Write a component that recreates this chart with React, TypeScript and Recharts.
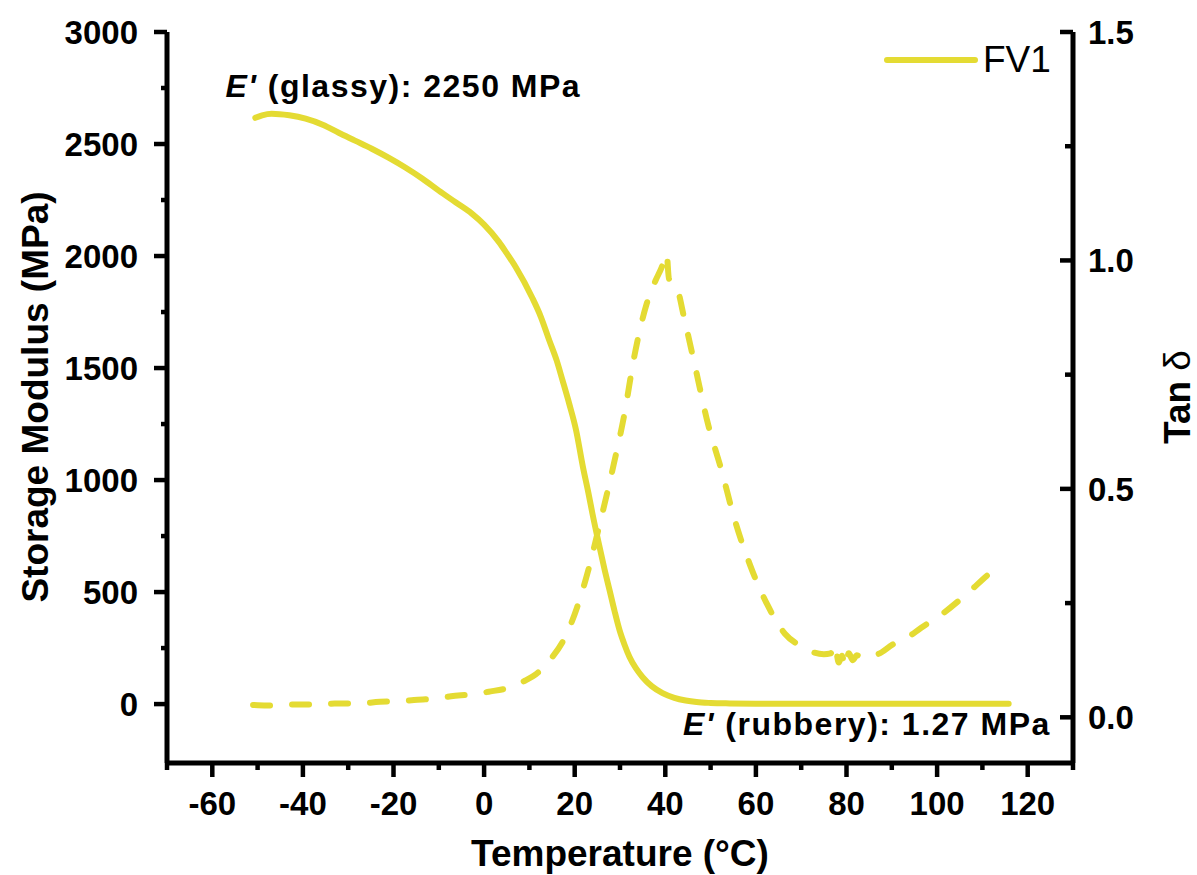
import { Legend, Line, LineChart, ReferenceDot, XAxis, YAxis } from 'recharts'

const YELLOW = '#e4db33'
const FONT = '"Liberation Sans", Arial, sans-serif'

// storage modulus E' (MPa) vs temperature (°C)
const TEMP_E = [
  -50.5, -49, -46.9, -43, -39.4, -35.5, -32.1, -28.5, -24.8, -21, -17.3, -13.6, -10, -6.3, -2.7, 0, 3.3, 4.9, 7,
  10.6, 12.5, 14.4, 16, 17.3, 18.8, 20.3, 21.8, 23, 23.9, 25.5, 26.6, 27.7, 28.8, 29.9, 31, 32.1, 33.5, 35, 37, 39.4,
  42, 44.5, 46.9, 50, 54.2, 60, 70, 80, 90, 100, 110, 115.8,
]
const MODULUS = [
  2617, 2628, 2635, 2628, 2613, 2585, 2550, 2515, 2479, 2438, 2394, 2345, 2292, 2240, 2189, 2140, 2062, 2015, 1950,
  1815, 1730, 1623, 1535, 1446, 1340, 1223, 1060, 945, 852, 700, 600, 508, 415, 330, 265, 210, 160, 120, 80, 49,
  28, 16, 9, 5, 3, 2, 1.6, 1.4, 1.3, 1.3, 1.27, 1.27,
]

// tan delta vs temperature (°C)
const TEMP_TAN = [
  -51, -48, -43, -38, -33, -28, -23, -19, -15.5, -10.6, -7.3, -3, 1, 5.5, 9, 11.4, 14.5, 18.2, 20.5, 22.5, 25.5,
  28.6, 31, 33, 35.8, 37.8, 39.2, 40.3, 40.8, 41.7, 42.6, 44.1, 46.6, 49.4, 52.4, 55.3, 58.8, 62.5, 66.4, 69.5,
  72.7, 75, 76.5, 77.4, 78.3, 79, 79.7, 80.5, 81.4, 82.3, 83.4, 85, 87.1, 90.3, 93, 96.5, 101.5, 106.4, 111.6, 113.3,
]
const TAN_DELTA = [
  0.027, 0.026, 0.028, 0.028, 0.03, 0.03, 0.034, 0.035, 0.038, 0.041, 0.046, 0.05, 0.056, 0.065, 0.08, 0.094, 0.125,
  0.182, 0.24, 0.304, 0.422, 0.553, 0.665, 0.782, 0.902, 0.955, 0.985, 1.015, 0.96, 0.953, 0.94, 0.877, 0.767, 0.643,
  0.541, 0.433, 0.331, 0.247, 0.183, 0.158, 0.142, 0.138, 0.14, 0.16, 0.12, 0.135, 0.11, 0.14, 0.125, 0.136, 0.13,
  0.134, 0.139, 0.16, 0.172, 0.196, 0.229, 0.269, 0.315, 0.329,
]

const X_TICKS = [-70, -60, -50, -40, -30, -20, -10, 0, 10, 20, 30, 40, 50, 60, 70, 80, 90, 100, 110, 120, 130]
const E_TICKS = [0, 250, 500, 750, 1000, 1250, 1500, 1750, 2000, 2250, 2500, 2750, 3000]
const TAN_TICKS = [0, 0.25, 0.5, 0.75, 1, 1.25, 1.5]

const eRows = TEMP_E.map((t, i) => ({ t, e: MODULUS[i] }))
const tanRows = TEMP_TAN.map((t, i) => ({ t, tan: TAN_DELTA[i] }))

type TickProps = { x?: number; y?: number; payload?: { value: number } }

function XTick({ x = 0, y = 0, payload }: TickProps) {
  if (!payload) return null
  const v = payload.value
  const major = v % 20 === 0
  return (
    <g>
      <line x1={x} x2={x} y1={y} y2={y + (major ? 14 : 7)} stroke="#000" strokeWidth={4.5} />
      {major && (
        <text x={x} y={y + 52} textAnchor="middle" fontSize={33} fontWeight={700} fontFamily={FONT} fill="#000">
          {v}
        </text>
      )}
    </g>
  )
}

function LeftTick({ x = 0, y = 0, payload }: TickProps) {
  if (!payload) return null
  const v = payload.value
  const major = v % 500 === 0
  return (
    <g>
      <line x1={x - (major ? 13 : 6)} x2={x} y1={y} y2={y} stroke="#000" strokeWidth={4.5} />
      {major && (
        <text x={x - 29} y={y + 12} textAnchor="end" fontSize={33} fontWeight={700} fontFamily={FONT} fill="#000">
          {v}
        </text>
      )}
    </g>
  )
}

function RightTick({ x = 0, y = 0, payload }: TickProps) {
  if (!payload) return null
  const v = payload.value
  const major = Math.abs((v * 2) % 1) < 1e-9
  return (
    <g>
      <line x1={x - (major ? 13 : 8)} x2={x} y1={y} y2={y} stroke="#000" strokeWidth={4.5} />
      {major && (
        <text x={x + 15} y={y + 12} textAnchor="start" fontSize={33} fontWeight={700} fontFamily={FONT} fill="#000">
          {v.toFixed(1)}
        </text>
      )}
    </g>
  )
}

type VB = { viewBox?: { x?: number; y?: number; width?: number; height?: number } }

// annotation text anchored at a data point
function annot(label: string, anchor: 'start' | 'end') {
  return (p: VB) => {
    const vb = p.viewBox ?? {}
    const x = (vb.x ?? 0) + (vb.width ?? 0) / 2
    const y = (vb.y ?? 0) + (vb.height ?? 0) / 2
    return (
      <text x={x} y={y} textAnchor={anchor} fontSize={32} fontWeight={700} fontFamily={FONT} letterSpacing={1.5} fill="#000">
        <tspan fontStyle="italic">E'</tspan> {label}
      </text>
    )
  }
}

function LegendBox() {
  return (
    <svg width={200} height={50}>
      <line x1={7} x2={95} y1={25} y2={25} stroke={YELLOW} strokeWidth={6} strokeLinecap="round" />
      <text x={103} y={37} fontSize={37} fontFamily={FONT} fill="#000">FV1</text>
    </svg>
  )
}

export default function App() {
  return (
    <div style={{ position: 'absolute', left: 0, top: 0, width: 1197, height: 875, background: '#fff' }}>
      <LineChart width={1197} height={875} margin={{ top: 32, right: 24, bottom: 32, left: 67 }}>
        <XAxis
          dataKey="t"
          type="number"
          domain={[-70, 130]}
          ticks={X_TICKS}
          interval={0}
          height={80}
          tickSize={0}
          tickMargin={0}
          tickLine={false}
          axisLine={{ stroke: '#000', strokeWidth: 5 }}
          tick={(p: TickProps) => <XTick {...p} />}
          label={{
            content: () => (
              <text x={620} y={866} textAnchor="middle" fontSize={37} fontWeight={700} fontFamily={FONT} fill="#000">
                Temperature (°C)
              </text>
            ),
          }}
        />
        <XAxis
          xAxisId="top"
          orientation="top"
          dataKey="t"
          type="number"
          domain={[-70, 130]}
          height={0}
          tick={false}
          tickLine={false}
          axisLine={{ stroke: '#000', strokeWidth: 5 }}
        />
        <YAxis
          yAxisId="left"
          type="number"
          domain={[-263, 3000]}
          ticks={E_TICKS}
          interval={0}
          width={100}
          tickSize={0}
          tickMargin={0}
          tickLine={false}
          axisLine={{ stroke: '#000', strokeWidth: 5 }}
          tick={(p: TickProps) => <LeftTick {...p} />}
          label={{
            content: () => (
              <text
                x={48}
                y={397}
                transform="rotate(-90 48 397)"
                textAnchor="middle"
                fontSize={37}
                fontWeight={700}
                fontFamily={FONT}
                fill="#000"
              >
                Storage Modulus (MPa)
              </text>
            ),
          }}
        />
        <YAxis
          yAxisId="right"
          orientation="right"
          type="number"
          domain={[-0.1, 1.5]}
          ticks={TAN_TICKS}
          interval={0}
          width={100}
          tickSize={0}
          tickMargin={0}
          tickLine={false}
          axisLine={{ stroke: '#000', strokeWidth: 5 }}
          tick={(p: TickProps) => <RightTick {...p} />}
          label={{
            content: () => (
              <text
                x={1190}
                y={397}
                transform="rotate(-90 1190 397)"
                textAnchor="middle"
                fontSize={37}
                fontWeight={700}
                fontFamily={FONT}
                fill="#000"
              >
                Tan <tspan fontWeight={400}>δ</tspan>
              </text>
            ),
          }}
        />
        <Legend
          layout="vertical"
          align="center"
          verticalAlign="middle"
          wrapperStyle={{ left: 880, top: 35, width: 200 }}
          content={() => <LegendBox />}
        />
        <Line
          yAxisId="left"
          data={eRows}
          dataKey="e"
          type="monotone"
          stroke={YELLOW}
          strokeWidth={6}
          strokeLinecap="round"
          dot={false}
          activeDot={false}
          isAnimationActive={false}
        />
        <Line
          yAxisId="right"
          data={tanRows}
          dataKey="tan"
          type="monotone"
          stroke={YELLOW}
          strokeWidth={6}
          strokeLinecap="round"
          strokeDasharray="17 22"
          dot={false}
          activeDot={false}
          isAnimationActive={false}
        />
        <ReferenceDot
          yAxisId="left"
          x={-57.1}
          y={2710}
          r={0}
          fill="none"
          stroke="none"
          label={{ content: annot('(glassy): 2250 MPa', 'start') }}
        />
        <ReferenceDot
          yAxisId="left"
          x={125.1}
          y={-138}
          r={0}
          fill="none"
          stroke="none"
          label={{ content: annot('(rubbery): 1.27 MPa', 'end') }}
        />
      </LineChart>
    </div>
  )
}
